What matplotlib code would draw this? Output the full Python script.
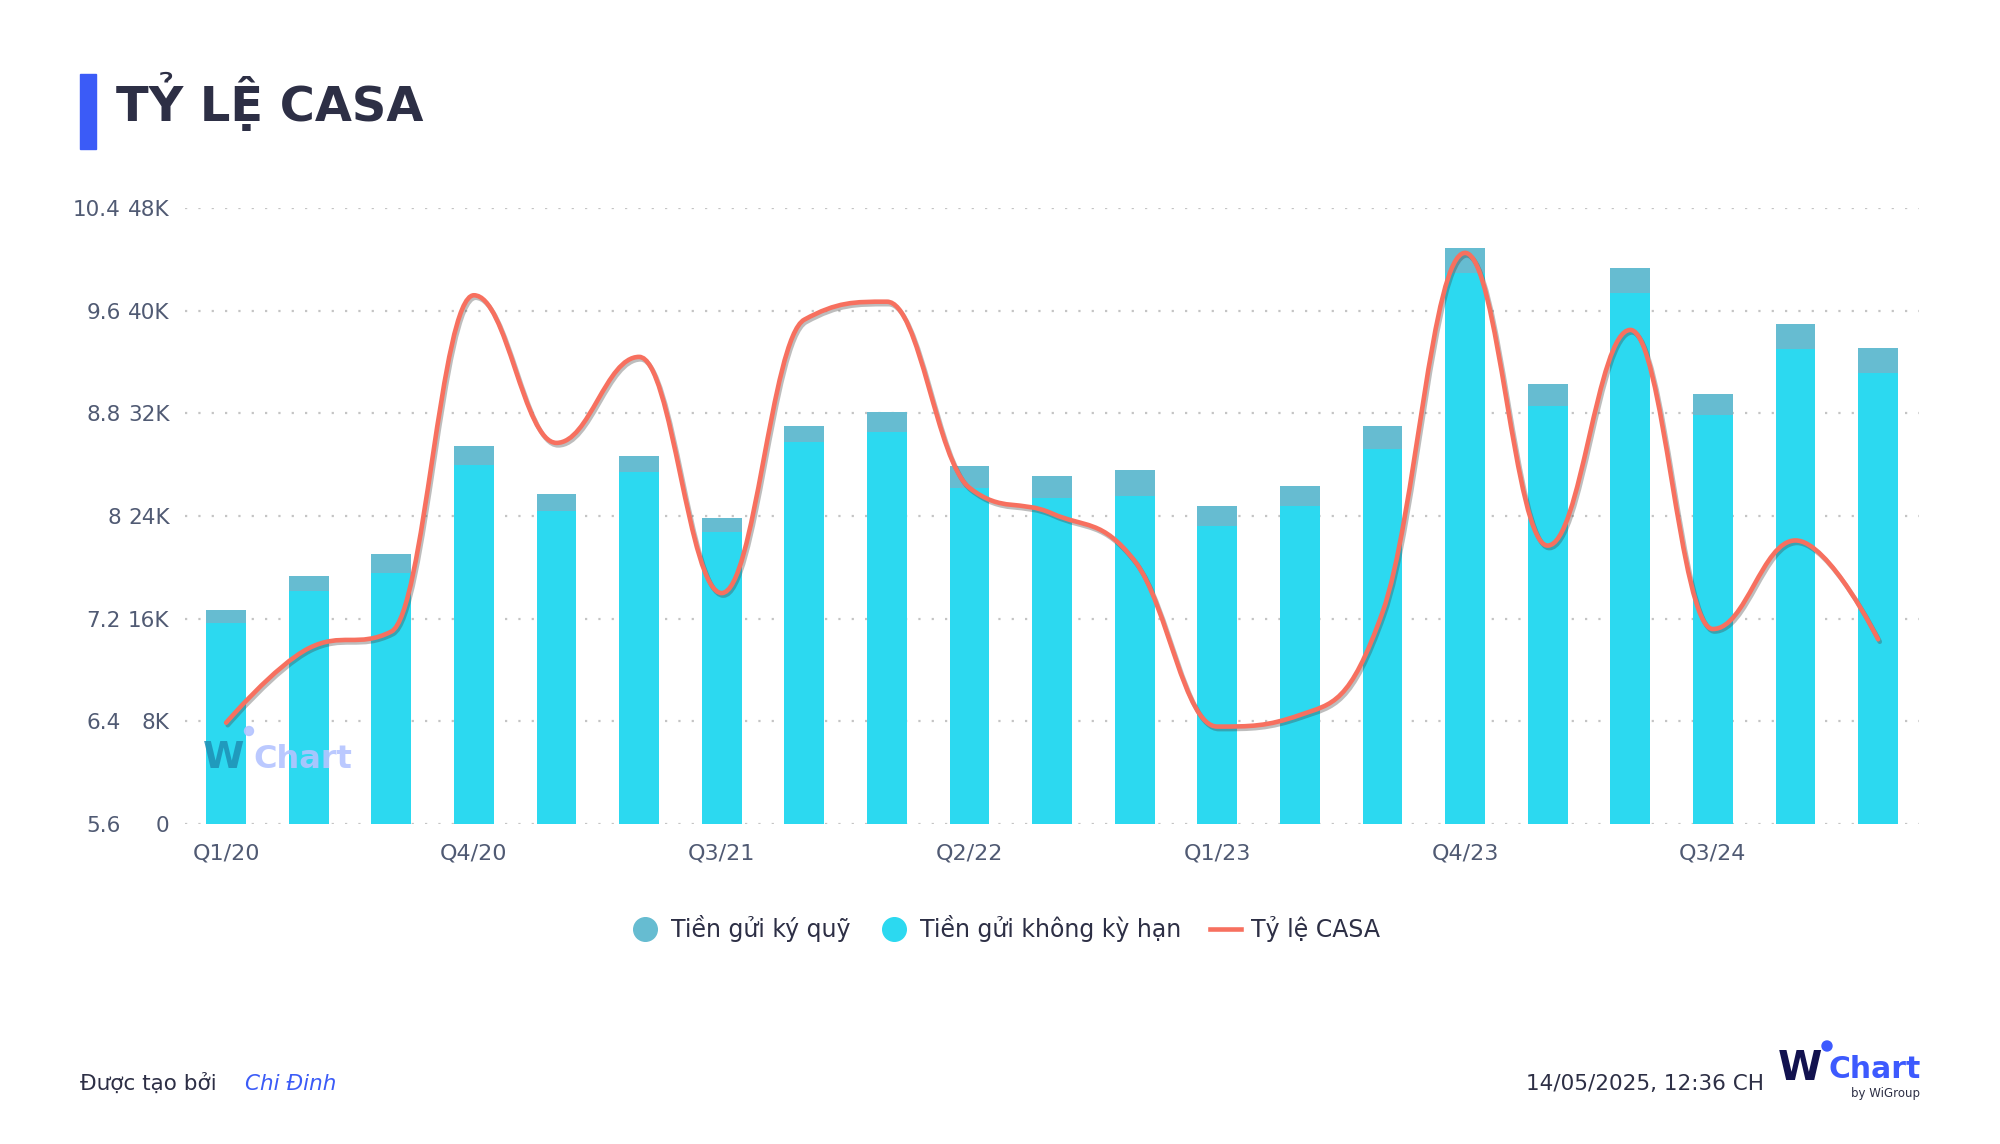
import numpy as np
import matplotlib.pyplot as plt
from matplotlib.path import Path
from matplotlib.patches import PathPatch, Rectangle, Ellipse
from matplotlib.lines import Line2D
import matplotlib.patheffects as pe

quarters = ['Q1/20', 'Q2/20', 'Q3/20', 'Q4/20', 'Q1/21', 'Q2/21', 'Q3/21',
            'Q4/21', 'Q1/22', 'Q2/22', 'Q3/22', 'Q4/22', 'Q1/23', 'Q2/23',
            'Q3/23', 'Q4/23', 'Q1/24', 'Q2/24', 'Q3/24', 'Q4/24', 'Q1/25']

# nghin ty (K)
khong_ky_han = [15.7, 18.2, 19.6, 28.0, 24.4, 27.45, 22.75, 29.8, 30.55, 26.2, 25.4,
                25.6, 23.2, 24.8, 29.2, 42.9, 32.55, 41.4, 31.85, 37.0, 35.15]
ky_quy = [0.95, 1.1, 1.45, 1.45, 1.3, 1.2, 1.1, 1.2, 1.55, 1.7, 1.7,
          2.0, 1.55, 1.55, 1.8, 1.95, 1.75, 1.9, 1.65, 1.95, 1.95]
casa = [6.39, 6.97, 7.1, 9.72, 8.57, 9.24, 7.40, 9.53, 9.67, 8.22, 8.02,
        7.65, 6.36, 6.45, 7.25, 10.05, 7.77, 9.45, 7.12, 7.81, 7.04]

k_ticks = [0, 8, 16, 24, 32, 40, 48]
casa_ticks = [5.6, 6.4, 7.2, 8, 8.8, 9.6, 10.4]

c_cyan = '#2cd9f0'
c_teal = '#66bcd1'
c_line = '#f7705f'
c_text = '#2d2f45'
c_tick = '#505a73'
c_blue = '#3b5bf7'

W, H = 2000, 1144


def spline_path(xs, ys, smoothing=1.5):
    # highcharts-like spline: bezier control points for each point
    n = len(xs)
    left = [(xs[0], ys[0])] * n
    right = [(xs[0], ys[0])] * n
    for i in range(n):
        x, y = xs[i], ys[i]
        if i == 0 or i == n - 1:
            left[i] = (x, y)
            right[i] = (x, y)
            continue
        lx, ly = xs[i - 1], ys[i - 1]
        nx, ny = xs[i + 1], ys[i + 1]
        d = smoothing + 1
        lcx = (smoothing * x + lx) / d
        lcy = (smoothing * y + ly) / d
        rcx = (smoothing * x + nx) / d
        rcy = (smoothing * y + ny) / d
        corr = (rcy - lcy) * (rcx - x) / (rcx - lcx) + y - rcy
        lcy += corr
        rcy += corr
        if lcy > ly and lcy > y:
            lcy = max(ly, y)
            rcy = 2 * y - lcy
        elif lcy < ly and lcy < y:
            lcy = min(ly, y)
            rcy = 2 * y - lcy
        if rcy > ny and rcy > y:
            rcy = max(ny, y)
            lcy = 2 * y - rcy
        elif rcy < ny and rcy < y:
            rcy = min(ny, y)
            lcy = 2 * y - rcy
        left[i] = (lcx, lcy)
        right[i] = (rcx, rcy)
    verts = [(xs[0], ys[0])]
    codes = [Path.MOVETO]
    for i in range(1, n):
        verts += [right[i - 1], left[i], (xs[i], ys[i])]
        codes += [Path.CURVE4] * 3
    return Path(verts, codes)


def dot(fig, xpx, ypx, dpx, color, alpha=1.0):
    fig.patches.append(Ellipse((xpx / W, 1 - ypx / H), dpx / W, dpx / H,
                               transform=fig.transFigure, color=color, alpha=alpha))


fig = plt.figure(figsize=(20, 11.44), dpi=100)
ax = fig.add_axes([0.0924, 0.2796, 0.8673, 0.5386])
x = np.arange(len(quarters))

ax.bar(x, khong_ky_han, width=0.484, color=c_cyan, zorder=2)
ax.bar(x, ky_quy, width=0.484, bottom=khong_ky_han, color=c_teal, zorder=2)

ax.set_xlim(-0.5, len(quarters) - 0.5)
ax.set_ylim(0, 48)
ax.set_yticks(k_ticks)
ax.set_yticklabels(['0' if t == 0 else f'{t}K' for t in k_ticks])
ax.set_xticks(x[::3])
ax.set_xticklabels(quarters[::3])
ax.grid(axis='y', color='#c4c4c4', linestyle=(0, (1, 5)), linewidth=1.6, zorder=0)
ax.set_axisbelow(True)
ax.tick_params(axis='y', length=0, pad=11, labelsize=15.5, labelcolor=c_tick)
ax.tick_params(axis='x', length=0, pad=14, labelsize=16, labelcolor=c_tick)
for s in ax.spines.values():
    s.set_visible(False)

ax2 = ax.twinx()
ax2.set_ylim(5.6, 10.4)
ax2.set_yticks(casa_ticks)
ax2.set_yticklabels([f'{t:g}' for t in casa_ticks])
ax2.yaxis.set_ticks_position('left')
ax2.yaxis.set_label_position('left')
ax2.tick_params(axis='y', length=0, pad=46, labelsize=15.5, labelcolor=c_tick)
for s in ax2.spines.values():
    s.set_visible(False)

line = PathPatch(spline_path(list(x), casa), facecolor='none', edgecolor=c_line,
                 linewidth=3.3, capstyle='round', joinstyle='round', zorder=3)
line.set_path_effects([pe.SimpleLineShadow(offset=(1.2, -1.8), shadow_color='#444444', alpha=0.35),
                       pe.Normal()])
ax2.add_patch(line)

# watermark
fig.text(0.1015, 0.329, 'W', fontsize=27, fontweight='bold', color='#1f8fb5', alpha=0.85)
dot(fig, 249, 731, 9, '#b4c4ff', 0.9)
fig.text(0.1265, 0.329, 'Chart', fontsize=23, fontweight='bold', color='#b4c4ff', alpha=0.9)

# title
fig.patches.append(Rectangle((0.04, 1 - 149 / H), 0.008, 75 / H,
                             transform=fig.transFigure, color=c_blue))
fig.text(0.058, 0.8942, 'TỶ LỆ CASA', fontsize=34.5, fontweight='bold', color=c_text)

# legend
handles = [Line2D([], [], marker='o', linestyle='none', markersize=17, color=c_teal),
           Line2D([], [], marker='o', linestyle='none', markersize=17, color=c_cyan),
           Line2D([], [], color=c_line, linewidth=3.3)]
fig.legend(handles, ['Tiền gửi ký quỹ', 'Tiền gửi không kỳ hạn', 'Tỷ lệ CASA'],
           loc='center', bbox_to_anchor=(0.5025, 1 - 929 / H), ncol=3, frameon=False,
           fontsize=17, labelcolor=c_text, handlelength=1.3, handletextpad=0.45,
           columnspacing=1.2)

# footer
fig.text(0.04, 0.0472, 'Được tạo bởi', fontsize=15.5, color=c_text)
fig.text(0.1225, 0.0472, 'Chi Đinh', fontsize=15.5, color=c_blue, style='italic')
fig.text(0.882, 0.0472, '14/05/2025, 12:36 CH', fontsize=15.5, color=c_text, ha='right')
fig.text(0.889, 1 - 1080 / H, 'W', fontsize=29, fontweight='bold', color='#12124f')
dot(fig, 1827, 1046, 10, '#3d5afe')
fig.text(0.9145, 1 - 1078 / H, 'Chart', fontsize=21.5, fontweight='bold', color='#3d5afe')
fig.text(0.96, 1 - 1097 / H, 'by WiGroup', fontsize=8.5, color=c_text, ha='right')

fig.savefig('out.png', dpi=100, facecolor='white')
